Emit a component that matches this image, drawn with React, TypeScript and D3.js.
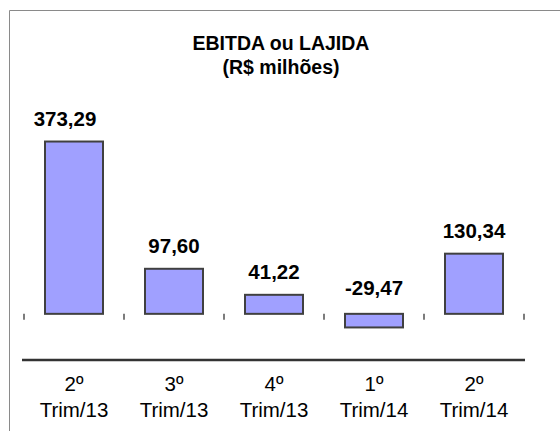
import React from "react";
import * as d3 from "d3";

const quarters = ["2º", "3º", "4º", "1º", "2º"];
const periods = ["Trim/13", "Trim/13", "Trim/13", "Trim/14", "Trim/14"];
const ebitda = [373.29, 97.6, 41.22, -29.47, 130.34];
const valueLabels = ["373,29", "97,60", "41,22", "-29,47", "130,34"];
const titleLines = ["EBITDA ou LAJIDA", "(R$ milhões)"];

const W = 560;
const H = 431;
const font = "Arial, 'Liberation Sans', sans-serif";

const App = () => {
  const keys = ebitda.map((_, i) => String(i));

  const x = d3
    .scaleBand()
    .domain(keys)
    .range([24, 524])
    .paddingInner(0.42)
    .paddingOuter(0.21);

  const y = d3.scaleLinear().domain([-100, 400]).range([360, 129.2]);

  // tick marks sit on the category boundaries
  const tickXs = d3.range(keys.length + 1).map((i) => 24 + i * x.step());

  // the first value label sits a bit left of its bar in the original
  const labelDx = (i) => (i === 0 ? -9 : 0);

  return (
    <svg
      width={W}
      height={H}
      style={{ position: "absolute", left: 0, top: 0, background: "#fff" }}
    >
      {/* frame */}
      <line x1={9.5} y1={10.5} x2={W} y2={10.5} stroke="#8a8a8a" strokeWidth={1} />
      <line x1={9.5} y1={10.5} x2={9.5} y2={H} stroke="#8a8a8a" strokeWidth={1} />

      {/* title */}
      <g fontFamily={font} fontWeight="bold" fontSize={19.5} textAnchor="middle" fill="#000">
        <text x={281} y={50}>{titleLines[0]}</text>
        <text x={281} y={74}>{titleLines[1]}</text>
      </g>

      {/* bars */}
      {ebitda.map((v, i) => (
        <rect
          key={i}
          x={x(keys[i])}
          y={y(Math.max(0, v))}
          width={x.bandwidth()}
          height={Math.abs(y(v) - y(0))}
          fill="#a0a0ff"
          stroke="#404040"
          strokeWidth={2}
        />
      ))}

      {/* value labels */}
      <g fontFamily={font} fontWeight="bold" fontSize={20.5} textAnchor="middle" fill="#000">
        {ebitda.map((v, i) => (
          <text
            key={i}
            x={x(keys[i]) + x.bandwidth() / 2 + labelDx(i)}
            y={v >= 0 ? y(v) - 16 : y(0) - 19}
          >
            {valueLabels[i]}
          </text>
        ))}
      </g>

      {/* ticks at zero */}
      {tickXs.map((tx, i) => (
        <line
          key={i}
          x1={tx}
          x2={tx}
          y1={y(0)}
          y2={y(0) + 6}
          stroke="#505050"
          strokeWidth={1.5}
        />
      ))}

      {/* bottom axis line */}
      <line x1={22} x2={525} y1={y(-100)} y2={y(-100)} stroke="#333" strokeWidth={2.5} />

      {/* category labels */}
      <g fontFamily={font} fontSize={20.5} textAnchor="middle" fill="#000">
        {keys.map((k, i) => (
          <g key={k}>
            <text x={x(k) + x.bandwidth() / 2} y={391}>{quarters[i]}</text>
            <text x={x(k) + x.bandwidth() / 2} y={417}>{periods[i]}</text>
          </g>
        ))}
      </g>
    </svg>
  );
};

export default App;
